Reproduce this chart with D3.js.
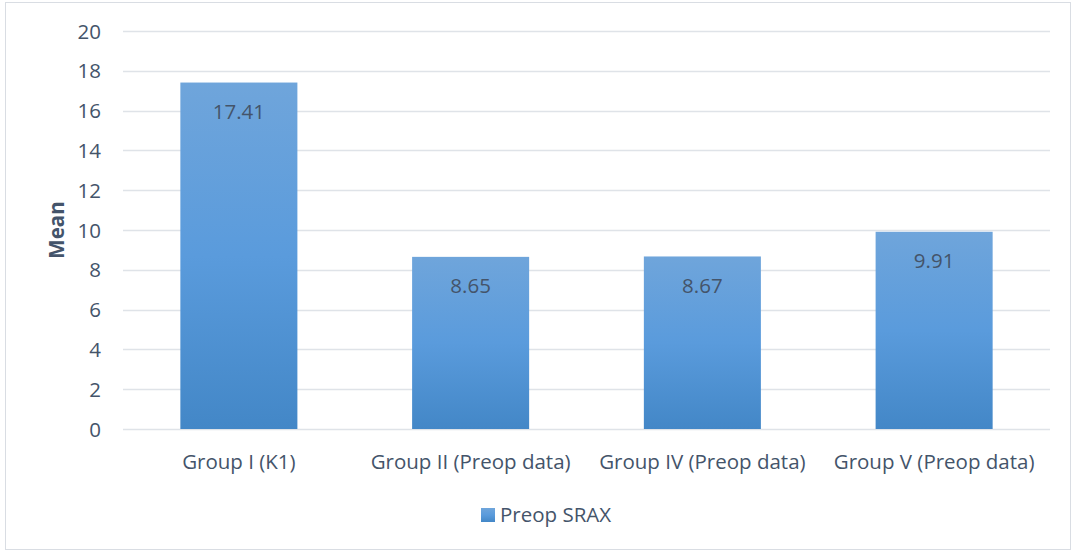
<!DOCTYPE html>
<html>
<head>
<meta charset="utf-8">
<script src="https://cdn.jsdelivr.net/npm/d3@7"></script>
<style>
  html, body { margin: 0; padding: 0; background: #fff; }
  svg { display: block; }
  text { font-family: "Open Sans", Lato, sans-serif; fill: #44546a; }
</style>
</head>
<body>
<svg id="chart" width="1071" height="552"></svg>
<script>
// Chart data
const categories = ["Group I (K1)", "Group II (Preop data)", "Group IV (Preop data)", "Group V (Preop data)"];
const values = [17.41, 8.65, 8.67, 9.91];
const yTicks = [0, 2, 4, 6, 8, 10, 12, 14, 16, 18, 20];
const seriesName = "Preop SRAX";
const yTitle = "Mean";

const FONT = "'Open Sans', Lato, sans-serif";
const FS = 20.5;

const svg = d3.select("#chart");
const W = 1071, H = 552;
const margin = { left: 123, right: 21, top: 31, bottom: 123 };

// Outer chart frame
svg.append("rect")
  .attr("x", 5.5).attr("y", 2.5)
  .attr("width", W - 6).attr("height", 547)
  .attr("fill", "#fff").attr("stroke", "#d9dde3").attr("stroke-width", 1);

// Bar fill gradient
const defs = svg.append("defs");
const grad = defs.append("linearGradient").attr("id", "barGrad")
  .attr("x1", 0).attr("y1", 0).attr("x2", 0).attr("y2", 1);
grad.append("stop").attr("offset", "0%").attr("stop-color", "#6fa5db");
grad.append("stop").attr("offset", "50%").attr("stop-color", "#5a9bdc");
grad.append("stop").attr("offset", "100%").attr("stop-color", "#4387c7");

const x = d3.scaleBand()
  .domain(categories)
  .range([margin.left, W - margin.right])
  .paddingInner(0.495)
  .paddingOuter(0.2475);

const y = d3.scaleLinear()
  .domain([0, 20])
  .range([H - margin.bottom, margin.top]);

// Gridlines
svg.append("g")
  .selectAll("line")
  .data(yTicks)
  .join("line")
  .attr("x1", margin.left).attr("x2", W - margin.right)
  .attr("y1", d => Math.round(y(d)) + 0.5).attr("y2", d => Math.round(y(d)) + 0.5)
  .attr("stroke", "#dfe3e8").attr("stroke-width", 1.5);

// Y axis labels
const yAxis = d3.axisLeft(y).tickValues(yTicks).tickSize(0).tickPadding(0);
const gy = svg.append("g")
  .attr("transform", `translate(${margin.left - 22},0)`)
  .call(yAxis);
gy.select(".domain").remove();
gy.selectAll("text")
  .attr("font-size", FS)
  .attr("dy", "0.35em")
  .style("font-family", FONT)
  .attr("fill", "#44546a");

// X axis labels
const xAxis = d3.axisBottom(x).tickSize(0).tickPadding(0);
const gx = svg.append("g")
  .attr("transform", `translate(0,${H - margin.bottom + 33})`)
  .call(xAxis);
gx.select(".domain").remove();
gx.selectAll("text")
  .attr("font-size", FS)
  .attr("dy", "0.35em")
  .style("font-family", FONT)
  .attr("fill", "#44546a");

// Bars
svg.append("g")
  .selectAll("rect")
  .data(values)
  .join("rect")
  .attr("x", (d, i) => x(categories[i]))
  .attr("y", d => y(d))
  .attr("width", x.bandwidth())
  .attr("height", d => y(0) - y(d))
  .attr("fill", "url(#barGrad)");

// Value labels inside bar tops
svg.append("g")
  .selectAll("text")
  .data(values)
  .join("text")
  .attr("x", (d, i) => x(categories[i]) + x.bandwidth() / 2)
  .attr("y", d => y(d) + 29)
  .attr("text-anchor", "middle")
  .attr("dy", "0.35em")
  .attr("font-size", FS)
  .text(d => d.toFixed(2));

// Y axis title
svg.append("text")
  .attr("transform", `translate(57,${(margin.top + H - margin.bottom) / 2}) rotate(-90)`)
  .attr("text-anchor", "middle")
  .attr("dy", "0.35em")
  .attr("font-size", FS)
  .attr("font-weight", "bold")
  .text(yTitle);

// Legend
const legend = svg.append("g");
legend.append("rect")
  .attr("x", 481).attr("y", 508)
  .attr("width", 14).attr("height", 14)
  .attr("fill", "url(#barGrad)");
legend.append("text")
  .attr("x", 500).attr("y", 515)
  .attr("dy", "0.35em")
  .attr("font-size", FS)
  .text(seriesName);
</script>
</body>
</html>
